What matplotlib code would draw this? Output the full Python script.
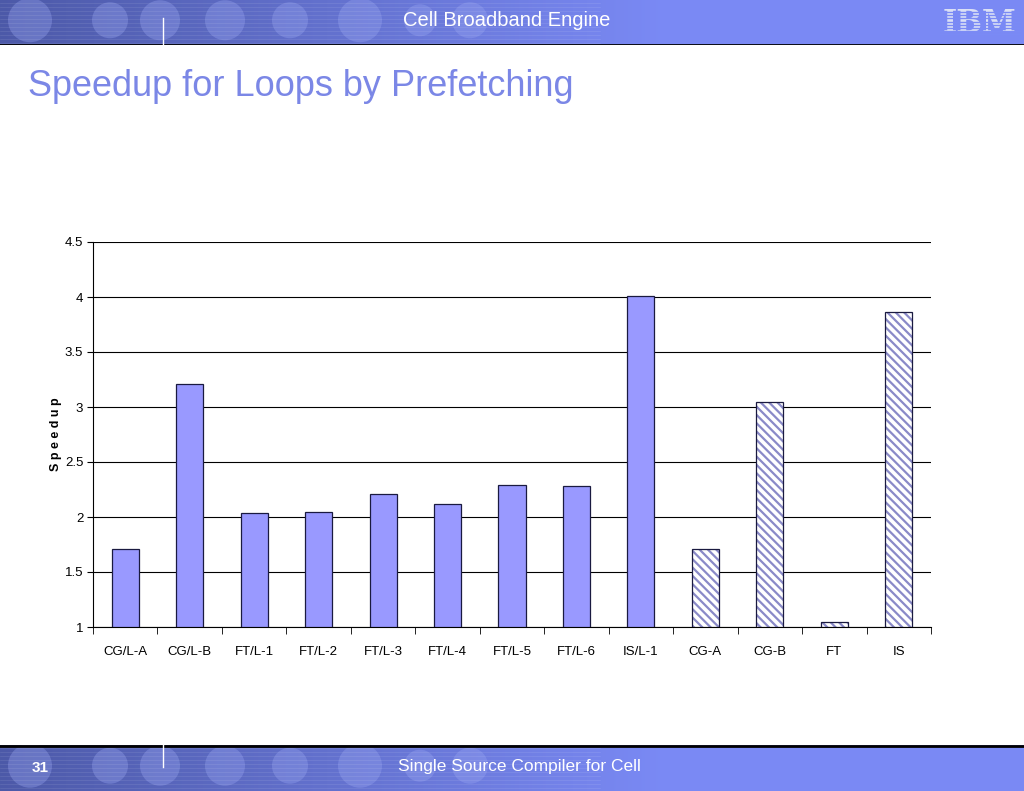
import matplotlib.pyplot as plt
import numpy as np
from matplotlib.patches import Circle

categories = ['CG/L-A', 'CG/L-B', 'FT/L-1', 'FT/L-2', 'FT/L-3', 'FT/L-4', 'FT/L-5',
              'FT/L-6', 'IS/L-1', 'CG-A', 'CG-B', 'FT', 'IS']
speedup = [1.71, 3.21, 2.04, 2.05, 2.21, 2.12, 2.29, 2.28, 4.01, 1.71, 3.05, 1.045, 3.86]
hatched = [False] * 9 + [True] * 4
yticks = [1, 1.5, 2, 2.5, 3, 3.5, 4, 4.5]

plt.rcParams['font.family'] = ['Liberation Sans', 'DejaVu Sans']
plt.rcParams['hatch.linewidth'] = 1.6

W, H = 1024, 791
BLUE = np.array([0.48, 0.54, 0.96])
fig = plt.figure(figsize=(W / 100, H / 100), dpi=100)

# banner helper: gradient strip with some faded circles on the left
def banner(y0, h):
    bax = fig.add_axes([0, 1 - (y0 + h) / H, 1, h / H])
    bax.set_xlim(0, W)
    bax.set_ylim(h, 0)
    bax.axis('off')
    t = np.clip(np.linspace(0, 1, 400) / 0.65, 0, 1)
    c0 = np.array([0.30, 0.35, 0.66])
    grad = c0[None, :] * (1 - t[:, None]) + BLUE[None, :] * t[:, None]
    bax.imshow(grad[None, :, :], extent=[0, W, h, 0], aspect='auto')
    for cx, r in [(30, 22), (110, 18), (160, 20), (225, 20), (290, 18), (360, 22),
                  (420, 16), (470, 18)]:
        bax.add_patch(Circle((cx, h * 0.45), r, color=(0.6, 0.65, 0.95), alpha=0.35, lw=0))
    for yy in np.arange(3, h, 4):
        bax.plot([0, 600], [yy, yy], color='white', lw=0.4, alpha=0.15)
    return bax

top = banner(0, 45)
top.plot([0, W], [44.5, 44.5], color='black', lw=2)
top.plot([163, 163], [18, 45], color='white', lw=1)
top.text(507, 20, 'Cell Broadband Engine', color='white', fontsize=14.5,
         ha='center', va='center')
top.text(980, 23, 'IBM', color=(0.86, 0.88, 0.96), fontsize=22, fontweight='bold',
         ha='center', va='center', family='DejaVu Serif', zorder=3)
for yy in np.arange(12, 36, 3.2):
    top.plot([940, 1020], [yy, yy], color=BLUE, lw=1.0, zorder=5)

bot = banner(745, 46)
bot.plot([0, W], [0.5, 0.5], color='black', lw=2)
bot.plot([163, 163], [0, 22], color='white', lw=1)
bot.text(40, 23, '31', color='white', fontsize=11, fontweight='bold',
         ha='center', va='center')
bot.text(519, 22, 'Single Source Compiler for Cell', color='white', fontsize=12.5,
         ha='center', va='center')

fig.text(28 / W, 1 - 87 / H, 'Speedup for Loops by Prefetching', color='#7b87e6',
         fontsize=26, ha='left', va='center')

ax = fig.add_axes([93 / W, 1 - 627 / H, (931 - 93) / W, (627 - 242) / H])
x = np.arange(len(categories))
solid_x = [i for i in x if not hatched[i]]
hatch_x = [i for i in x if hatched[i]]
ax.bar(solid_x, [speedup[i] - 1 for i in solid_x], bottom=1, width=0.42,
       color='#9999ff', edgecolor='#1a1a40', lw=0.9, zorder=3)
ax.bar(hatch_x, [speedup[i] - 1 for i in hatch_x], bottom=1, width=0.42,
       color='white', edgecolor='#8a8ac8', hatch='\\\\\\\\', lw=0, zorder=3)
ax.bar(hatch_x, [speedup[i] - 1 for i in hatch_x], bottom=1, width=0.42,
       fill=False, edgecolor='#1a1a40', lw=0.9, zorder=4)

ax.set_xlim(-0.5, len(categories) - 0.5)
ax.set_ylim(1, 4.5)
ax.set_yticks(yticks)
ax.set_yticklabels([f'{v:g}' for v in yticks], fontsize=9.5)
ax.yaxis.grid(True, color='black', lw=0.8, zorder=0)
ax.set_axisbelow(True)
ax.set_xticks(x)
ax.set_xticklabels(categories, fontsize=9.5)
ax.tick_params(axis='x', length=0, pad=14)
ax.set_xticks(np.arange(-0.5, len(categories)), minor=True)
ax.tick_params(axis='x', which='minor', length=5, direction='out', color='black')
ax.tick_params(axis='y', length=4, direction='out', pad=3)
for s in ['top', 'right']:
    ax.spines[s].set_visible(False)
ax.spines['left'].set_linewidth(0.8)
ax.spines['bottom'].set_linewidth(0.8)
ax.set_ylabel('S p e e d u p', fontsize=9, fontweight='bold', labelpad=2)

fig.savefig('out.png', dpi=100)
